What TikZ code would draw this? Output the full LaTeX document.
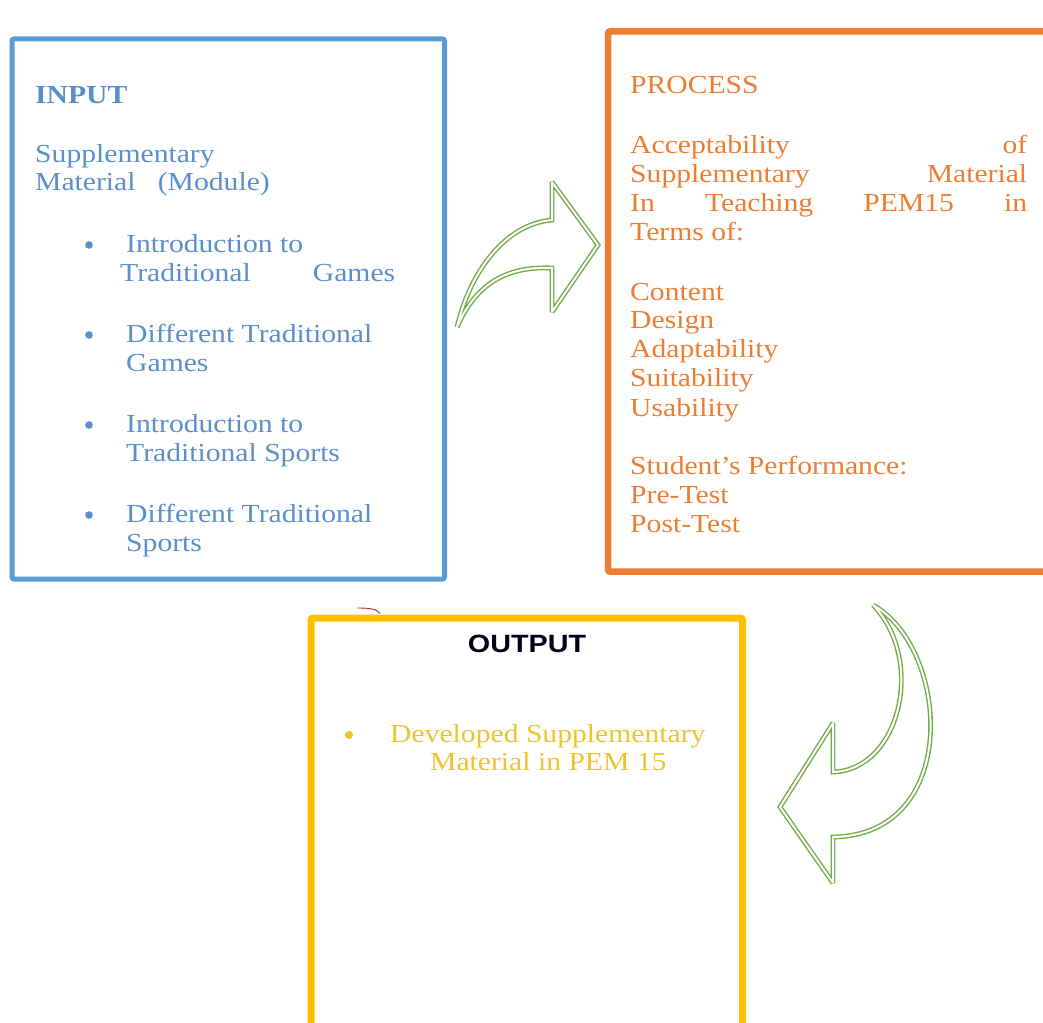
\documentclass[tikz,border=0pt]{standalone}
\usepackage{fontspec}
\setmainfont{Liberation Serif}[FakeStretch=1.14]
\setsansfont{Liberation Sans}[FakeStretch=1.15]
\definecolor{inblue}{HTML}{5B9BD5}
\definecolor{intext}{HTML}{5A8FCB}
\definecolor{procorange}{HTML}{ED7D31}
\definecolor{outyellow}{HTML}{FFC000}
\definecolor{outtext}{HTML}{EFC230}
\definecolor{arrowgreen}{HTML}{70AD47}
\definecolor{markred}{HTML}{B02845}

\begin{document}
\begin{tikzpicture}[x=1pt, y=-1pt,
	txtline/.style={anchor=base west, inner sep=0pt, font=\fontsize{26}{29}\selectfont},
	inline/.style={txtline, text=intext},
	procline/.style={txtline, text=procorange},
	outtxtline/.style={txtline, text=outtext},
	bendarrow/.style={draw=arrowgreen, double=white, double distance=2pt, line width=1.4pt, line join=miter, miter limit=3}]
	%%%%% START %%%%%
	\useasboundingbox (0, 0) rectangle (1043, 1022);
	
	% boxes
	\draw[line width=5pt, color=inblue, rounded corners=2pt] (12, 39) rectangle (444.5, 579);
	\draw[line width=6.5pt, color=procorange, rounded corners=2pt] (608, 31.5) rectangle (1060, 571.5);
	\draw[line width=7pt, color=outyellow, rounded corners=2pt] (311, 618) rectangle (742.5, 1040);
	
	% input
	\node[inline] (inhead) at (35, 104) {\textbf{INPUT}};
	\node[inline] (insupp) at (35, 162) {Supplementary};
	\node[inline] (inmat) at (35, 190) {Material\ \ \ (Module)};
	\node[inline] (gamesa) at (126, 252) {Introduction to};
	\node[inline] (gamesb) at (120, 281) {\makebox[275pt][s]{Traditional Games}};
	\node[inline] (gamesc) at (126, 342) {Different Traditional};
	\node[inline] (gamesd) at (126, 371) {Games};
	\node[inline] (sportsa) at (126, 432) {Introduction to};
	\node[inline] (sportsb) at (126, 461) {Traditional Sports};
	\node[inline] (sportsc) at (126, 522) {Different Traditional};
	\node[inline] (sportsd) at (126, 551) {Sports};
	\fill[intext] (89, 245) circle (3.8);
	\fill[intext] (89, 335) circle (3.8);
	\fill[intext] (89, 425) circle (3.8);
	\fill[intext] (89, 515) circle (3.8);
	
	% process
	\node[procline] (prochead) at (630, 94) {PROCESS};
	\node[procline] (acca) at (630, 153) {\makebox[397pt][s]{Acceptability of}};
	\node[procline] (accb) at (630, 182) {\makebox[397pt][s]{Supplementary Material}};
	\node[procline] (accc) at (630, 211) {\makebox[397pt][s]{In Teaching PEM15 in}};
	\node[procline] (accd) at (630, 240) {Terms of:};
	\node[procline] (content) at (630, 300) {Content};
	\node[procline] (design) at (630, 328.5) {Design};
	\node[procline] (adapt) at (630, 357.5) {Adaptability};
	\node[procline] (suit) at (630, 386.5) {Suitability};
	\node[procline] (usab) at (630, 416) {Usability};
	\node[procline] (perf) at (630, 474) {Student’s Performance:};
	\node[procline] (pretest) at (630, 503) {Pre-Test};
	\node[procline] (posttest) at (630, 532.5) {Post-Test};
	
	% output
	\node[anchor=base, inner sep=0pt, font=\sffamily\bfseries\fontsize{25}{29}\selectfont, text=black!90!blue] (outhead) at (527, 652.5) {OUTPUT};
	\node[outtxtline] (outa) at (390, 742) {Developed Supplementary};
	\node[outtxtline] (outb) at (430, 770) {Material in PEM 15};
	\fill[outtext] (349, 735) circle (4);
	
	% bent arrows
	\draw[bendarrow] (457, 327) .. controls (470, 272) and (505, 224) .. (552, 220)
		-- (552, 182) -- (598, 245) -- (552, 312) -- (552, 268)
		.. controls (506, 266) and (476, 284) .. cycle;
	\draw[bendarrow] (873, 605) .. controls (950, 648) and (962, 835) .. (833, 837)
		-- (833, 883) -- (780, 807) -- (833, 723) -- (833, 772)
		.. controls (900, 770) and (926, 660) .. cycle;
	
	% small pen mark
	\draw[markred, line width=0.9pt] (357, 608) .. controls (370, 608) and (377, 609) .. (380, 613.5);
	
	%%%%% END %%%%%
\end{tikzpicture}
\end{document}
